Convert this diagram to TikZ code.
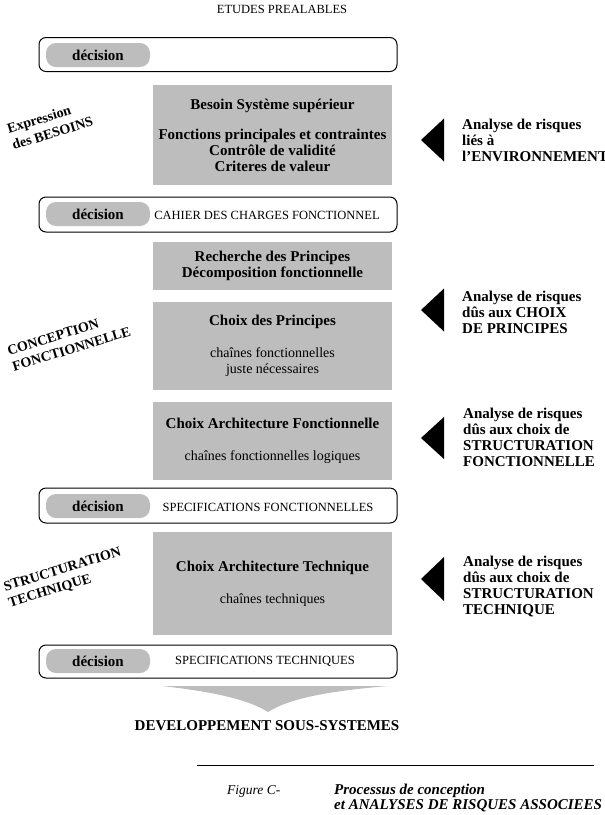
\documentclass[tikz,border=0pt]{standalone}
\usepackage{fontspec}
\setmainfont{Liberation Serif}
\usetikzlibrary{positioning}
\definecolor{dotgray}{gray}{0.74}
\newcommand{\lite}[1]{{\normalfont\fontsize{14}{16}\selectfont #1}}

\begin{document}
\begin{tikzpicture}[
    x=1pt, y=-1pt,
    decbox/.style={draw, line width=1pt, rounded corners=7pt, minimum width=358pt, inner sep=0pt},
    pill/.style={fill=dotgray, rounded corners=10pt, minimum width=104pt, minimum height=24pt, inner sep=0pt, font=\fontsize{15}{16}\selectfont\bfseries},
    stip/.style={fill=dotgray, minimum width=239pt, inner sep=0pt, align=center, font=\fontsize{15}{16}\selectfont\bfseries},
    phase/.style={rotate=17, align=left, inner sep=0pt, font=\fontsize{14}{17}\selectfont\bfseries},
    risk/.style={anchor=west, align=left, inner sep=0pt, font=\fontsize{15}{16}\selectfont\bfseries},
    caps/.style={inner sep=0pt, font=\fontsize{12.5}{14}\selectfont}
]
\useasboundingbox (0,0) rectangle (605,815);

% Top
\node[caps] (etudes) at (282,9) {ETUDES PREALABLES};

% Decisions
\node[decbox, minimum height=34pt] (dec1) at (218,54.5) {};
\node[pill] (pill1) at (98,55) {décision};

\node[decbox, minimum height=35pt] (dec2) at (218,214.5) {};
\node[pill] (pill2) at (98,214) {décision};
\node[caps] (cdcf) at (267,215) {CAHIER DES CHARGES FONCTIONNEL};

\node[decbox, minimum height=35pt] (dec3) at (218,505.5) {};
\node[pill] (pill3) at (98,506) {décision};
\node[caps] (specf) at (268,507) {SPECIFICATIONS FONCTIONNELLES};

\node[decbox, minimum height=33pt] (dec4) at (218,661.5) {};
\node[pill] (pill4) at (98,661) {décision};
\node[caps] (spect) at (265,661) {SPECIFICATIONS TECHNIQUES};

% Stippled boxes
\node[stip, minimum height=100pt] (besoin) at (272.5,135) {Besoin Système supérieur\\[14pt]Fonctions principales et contraintes\\Contrôle de validité\\Criteres de valeur};
\node[stip, minimum height=48pt] (recherche) at (272.5,266) {Recherche des Principes\\Décomposition fonctionnelle};
\node[stip, minimum height=88pt] (principes) at (272.5,346) {Choix des Principes\\[16pt]\lite{chaînes fonctionnelles}\\\lite{juste nécessaires}};
\node[stip, minimum height=78pt] (archf) at (272.5,441) {Choix Architecture Fonctionnelle\\[16pt]\lite{chaînes fonctionnelles logiques}};
\node[stip, minimum height=103pt] (archt) at (272.5,583.5) {Choix Architecture Technique\\[16pt]\lite{chaînes techniques}};

% Phases
\node[phase] (besoins) at (50,125) {Expression\\des BESOINS};
\node[phase] (concept) at (69,341) {CONCEPTION\\FONCTIONNELLE};
\node[phase] (struct) at (65,578) {STRUCTURATION\\TECHNIQUE};

% Risk analyses
\foreach \y/\h in {140/21.5, 310/21.5, 438/21, 579/22}
    \fill (421,\y) -- ++(23,-\h) -- ++(0,2*\h) -- cycle;
\node[risk] (risk1) at (462,140) {Analyse de risques\\liés à\\l'ENVIRONNEMENT};
\node[risk] (risk2) at (462,312.5) {Analyse de risques\\dûs aux CHOIX\\DE PRINCIPES};
\node[risk] (risk3) at (463,437.5) {Analyse de risques\\dûs aux choix de\\STRUCTURATION\\FONCTIONNELLE};
\node[risk] (risk4) at (463,586.5) {Analyse de risques\\dûs aux choix de\\STRUCTURATION\\TECHNIQUE};

% Output
\fill[dotgray] (162,686) -- (388,686) .. controls (330,691) and (290,698) .. (268,712)
    .. controls (246,698) and (206,691) .. cycle;
\node[font=\fontsize{15}{16}\selectfont\bfseries] (devel) at (267,726) {DEVELOPPEMENT SOUS-SYSTEMES};

% Caption
\draw (197,765) -- (594,765);
\node[anchor=west, inner sep=0pt, font=\fontsize{13.5}{15}\selectfont\itshape] (fig) at (227,791) {Figure C-};
\node[anchor=north west, inner sep=0pt, align=left, font=\fontsize{15}{15}\selectfont\bfseries\itshape] (title) at (334,784) {Processus de conception\\et ANALYSES DE RISQUES ASSOCIEES};

\end{tikzpicture}
\end{document}
